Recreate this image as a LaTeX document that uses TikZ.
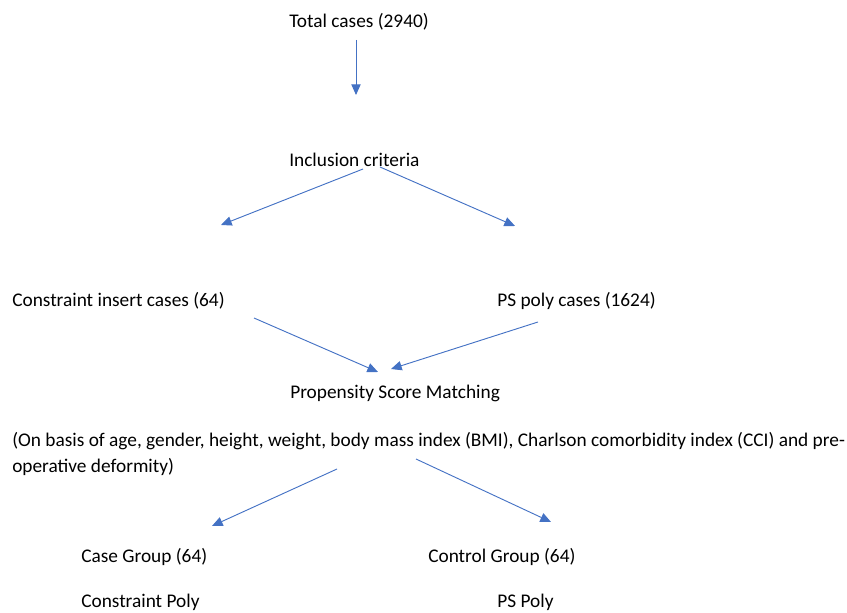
\documentclass[tikz,border=0pt]{standalone}
\usepackage{fontspec}
\setmainfont{Carlito}
\usetikzlibrary{arrows.meta, positioning}
\usepackage{xcolor}
\definecolor{flowblue}{HTML}{4472C4}
\tikzset{
    entry/.style={
        anchor=base west, inner sep=0pt, align=left,
        font=\fontsize{14.5}{19.5}\selectfont
    },
    arrow/.style={
        -{Triangle[length=8pt, width=7pt]}, line width=0.7pt, draw=flowblue
    }
}

\begin{document}
\begin{tikzpicture}[x=0.75pt, y=-0.75pt]

    \useasboundingbox (0,0) rectangle (847,613);

    % ── Text entries ──
    \node[entry] (total)    at (289,28)  {Total cases (2940)};
    \node[entry] (incl)     at (289,167) {Inclusion criteria};
    \node[entry] (insert)   at (12,306)  {Constraint insert cases (64)};
    \node[entry] (pspoly)   at (497,306) {PS poly cases (1624)};
    \node[entry] (psm)      at (290,398) {Propensity Score Matching};
    % base of a two-line node is its last line
    \node[entry] (basis)    at (12,472)  {(On basis of age, gender, height, weight, body mass index (BMI), Charlson comorbidity index (CCI) and pre-\\operative deformity)};
    \node[entry] (casegrp)  at (81,562)  {Case Group (64)};
    \node[entry] (ctrlgrp)  at (428,562) {Control Group (64)};
    \node[entry] (casepoly) at (81,607)  {Constraint Poly};
    \node[entry] (ctrlpoly) at (497,607) {PS Poly};

    % ── Arrow ends ──
    \coordinate (totalout)   at (356,40);
    \coordinate (inclin)     at (356,95);
    \coordinate (inclleft)   at (363,169);
    \coordinate (inclright)  at (380,167);
    \coordinate (insertin)   at (221,225);
    \coordinate (pspolyin)   at (515,226);
    \coordinate (insertout)  at (254,318);
    \coordinate (pspolyout)  at (538,322);
    \coordinate (psmleft)    at (378,372);
    \coordinate (psmright)   at (391,369);
    \coordinate (basisleft)  at (337,469);
    \coordinate (basisright) at (416,459);
    \coordinate (casein)     at (212,526);
    \coordinate (ctrlin)     at (551,522);

    % ── Arrows ──
    \draw[arrow] (totalout)   -- (inclin);
    \draw[arrow] (inclleft)   -- (insertin);
    \draw[arrow] (inclright)  -- (pspolyin);
    \draw[arrow] (insertout)  -- (psmleft);
    \draw[arrow] (pspolyout)  -- (psmright);
    \draw[arrow] (basisleft)  -- (casein);
    \draw[arrow] (basisright) -- (ctrlin);

\end{tikzpicture}
\end{document}
